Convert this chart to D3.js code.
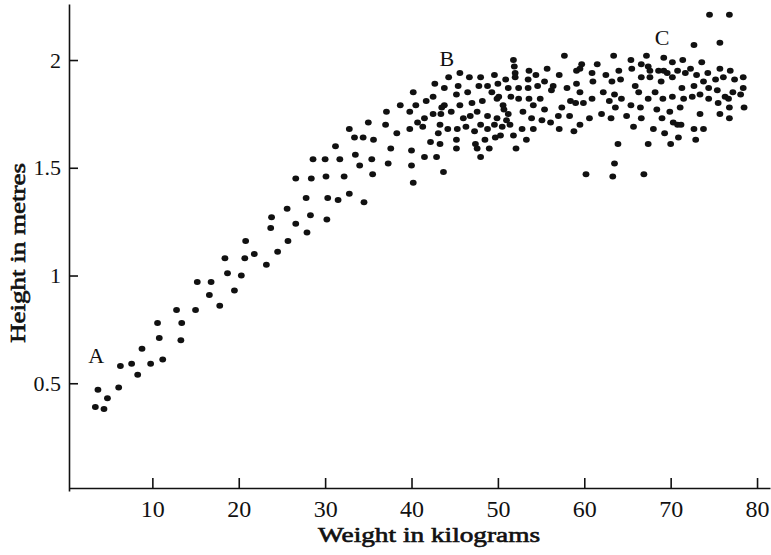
<!DOCTYPE html>
<html>
<head>
<meta charset="UTF-8">
<title>Height against weight</title>
<script src="https://d3js.org/d3.v7.min.js"></script>
<style>
	body { margin: 0; background: #fff; }
	svg text { font-family: "Liberation Serif", "DejaVu Serif", serif; fill: #111; }
	.axis path, .axis line { stroke: #111; stroke-width: 1.6; }
	.title { stroke: #111; stroke-width: 0.6; }
</style>
</head>
<body>
<svg id="chart" width="771" height="555"></svg>
<script>
// weight (kg), height (m)
var points = [
	[20.8,1.16],[21.8,1.10],[18.4,1.08],[20.7,1.08],[18.7,1.01],[20.3,1.00],[15.2,0.97],[16.8,0.97],
	[16.6,0.91],[19.5,0.93],[17.8,0.86],[12.8,0.84],[15.0,0.84],[13.4,0.78],[10.6,0.78],[10.8,0.71],
	[13.3,0.70],[8.8,0.66],[6.3,0.58],[7.6,0.59],[9.8,0.59],[11.2,0.61],[8.3,0.54],[6.1,0.48],
	[3.7,0.47],[4.8,0.43],[3.4,0.39],[4.4,0.38],
	[38.7,1.79],[37.1,1.76],[35.0,1.71],[32.8,1.68],[37.0,1.70],[38.3,1.66],[33.4,1.64],[34.4,1.64],
	[35.6,1.63],[31.2,1.60],[37.6,1.59],[33.5,1.56],[28.6,1.54],[30.0,1.54],[31.7,1.54],[35.4,1.54],
	[34.0,1.51],[37.3,1.52],[35.5,1.47],[26.6,1.45],[28.4,1.45],[30.1,1.46],[32.2,1.46],[27.8,1.36],
	[30.3,1.36],[31.5,1.35],[32.8,1.38],[34.5,1.34],[25.6,1.31],[23.8,1.27],[28.3,1.28],[23.7,1.22],
	[26.6,1.24],[30.2,1.26],[27.9,1.20],[25.7,1.16],[24.5,1.11],[23.2,1.05],
	[51.8,2.00],[51.9,1.97],[52.0,1.94],[52.0,1.92],
	[45.6,1.94],[44.3,1.92],[46.7,1.92],[48.0,1.92],[49.6,1.93],[50.9,1.91],
	[42.7,1.89],[43.8,1.87],[45.4,1.88],[47.8,1.88],[48.8,1.88],[50.0,1.89],[51.2,1.87],[52.4,1.87],
	[40.2,1.85],[42.5,1.83],[45.2,1.84],[46.5,1.85],[49.3,1.85],[50.1,1.83],[51.5,1.83],[52.4,1.82],
	[40.5,1.79],[41.7,1.81],[43.8,1.79],[45.6,1.79],[47.0,1.80],[48.2,1.81],[50.6,1.79],[50.7,1.77],
	[39.8,1.76],[41.5,1.73],[42.5,1.75],[43.4,1.75],[43.5,1.78],[44.6,1.76],[46.0,1.73],[46.8,1.74],
	[47.6,1.76],[48.8,1.74],[49.9,1.73],[51.2,1.75],[49.9,1.82],[51.0,1.72],[50.3,1.65],
	[40.7,1.71],[41.3,1.69],[39.8,1.68],[43.3,1.70],[44.2,1.68],[45.3,1.68],[46.3,1.69],[47.3,1.67],
	[48.0,1.70],[48.8,1.68],[49.6,1.70],[50.5,1.69],[51.4,1.70],
	[43.1,1.66],[42.2,1.62],[43.3,1.61],[45.2,1.63],[45.2,1.59],[47.4,1.61],[47.6,1.59],[48.5,1.63],
	[49.0,1.59],[49.7,1.64],[51.8,1.65],[52.1,1.59],
	[40.0,1.58],[41.5,1.55],[42.9,1.55],[48.0,1.55],[40.0,1.51],[43.7,1.48],[40.2,1.43],
	[57.7,2.02],[63.4,2.02],[65.4,2.00],[67.2,2.02],[53.6,1.95],[55.7,1.96],[59.7,1.98],[59.5,1.96],
	[59.1,1.95],[61.5,1.98],[64.0,1.95],[65.5,1.96],[66.6,1.98],[67.4,1.97],
	[54.4,1.93],[57.1,1.93],[60.9,1.94],[62.5,1.93],[64.2,1.91],[66.6,1.92],[53.5,1.91],[55.4,1.90],
	[56.4,1.88],[56.2,1.86],[54.6,1.88],[58.0,1.87],[59.1,1.89],[61.0,1.90],[63.2,1.90],[65.9,1.88],
	[59.5,1.85],[53.5,1.87],[66.3,1.85],[62.2,1.85],[63.5,1.84],[53.6,1.82],[54.9,1.82],[58.4,1.81],
	[59.0,1.80],[59.9,1.80],[60.9,1.82],[62.9,1.81],[64.3,1.82],[67.4,1.82],
	[54.1,1.79],[57.4,1.78],[63.6,1.78],[65.4,1.79],[66.5,1.78],[52.9,1.76],[55.4,1.77],[57.0,1.74],
	[58.3,1.74],[62.0,1.75],[64.9,1.74],[60.6,1.73],[63.1,1.73],[66.6,1.73],
	[53.9,1.73],[55.1,1.72],[56.1,1.71],[59.5,1.70],[65.7,1.69],[52.8,1.68],[54.1,1.68],[57.1,1.68],
	[58.8,1.67],[53.3,1.63],[63.9,1.61],[67.4,1.61],[63.5,1.52],[60.2,1.47],[63.3,1.46],[66.9,1.47],
	[74.5,2.21],[76.8,2.21],[72.7,2.07],[75.7,2.08],[69.2,2.01],[70.2,1.99],[71.4,2.00],[73.6,1.99],
	[67.6,1.95],[68.6,1.95],[69.2,1.95],[69.6,1.94],[70.8,1.95],[72.3,1.96],[74.3,1.94],[75.7,1.96],
	[76.9,1.95],[67.6,1.92],[68.9,1.90],[70.2,1.92],[71.7,1.94],[73.0,1.93],[73.8,1.90],[75.2,1.91],
	[76.1,1.92],[77.4,1.91],[78.4,1.92],[78.4,1.87],[71.3,1.87],[72.7,1.88],[74.4,1.87],[75.4,1.86],
	[77.2,1.85],[78.1,1.84],[76.3,1.83],[68.2,1.85],
	[69.1,1.82],[70.2,1.83],[71.5,1.82],[72.5,1.83],[73.4,1.84],[74.4,1.82],[75.5,1.80],[76.7,1.82],
	[68.4,1.77],[69.9,1.76],[71.1,1.78],[76.8,1.78],[78.5,1.78],[73.4,1.75],[75.7,1.75],
	[69.0,1.73],[70.3,1.71],[70.8,1.70],[71.2,1.70],[76.8,1.73],[68.0,1.68],[69.3,1.66],[72.7,1.68],
	[73.8,1.68],[70.9,1.64],[70.0,1.61],[72.9,1.63]
];

var xTicks = [10, 20, 30, 40, 50, 60, 70, 80];
var yTicks = [0.5, 1, 1.5, 2];
var yTickLabels = ['0.5', '1', '1.5', '2'];

// the letters written beside the cloud
var noteText = ['A', 'B', 'C'];
var noteKg = [3.5, 44.1, 69.0];
var noteM = [0.595, 1.97, 2.07];

var svg = d3.select('#chart');

var x = d3.scaleLinear().domain([0.35, 81.5]).range([69, 770]);
var y = d3.scaleLinear().domain([0, 2.26]).range([491, 4]);

// axes, ticks pointing inwards
svg.append('g')
	.attr('class', 'axis')
	.attr('transform', 'translate(0,488)')
	.call(d3.axisBottom(x).tickValues(xTicks).tickSize(-10).tickSizeOuter(0).tickPadding(12))
	.call(g => g.selectAll('text').attr('font-size', 24));

svg.append('g')
	.attr('class', 'axis')
	.attr('transform', 'translate(69,0)')
	.call(d3.axisLeft(y).tickValues(yTicks).tickFormat((d, i) => yTickLabels[i])
		.tickSize(-9).tickSizeOuter(0).tickPadding(8))
	.call(g => g.selectAll('text').attr('font-size', 22));

svg.selectAll('.axis').attr('font-family', null);

// dots
svg.append('g').selectAll('ellipse')
	.data(points)
	.enter()
	.append('ellipse')
	.attr('cx', d => x(d[0]))
	.attr('cy', d => y(d[1]))
	.attr('rx', 3.4)
	.attr('ry', 3.0)
	.attr('fill', '#111');

// A, B, C
svg.append('g').selectAll('text')
	.data(noteText)
	.enter()
	.append('text')
	.attr('x', (d, i) => x(noteKg[i]))
	.attr('y', (d, i) => y(noteM[i]))
	.attr('text-anchor', 'middle')
	.attr('font-size', 22)
	.text(d => d);

// axis titles
svg.append('text')
	.attr('class', 'title')
	.attr('x', 318)
	.attr('y', 542)
	.attr('font-size', 20)
	.attr('textLength', 222)
	.attr('lengthAdjust', 'spacingAndGlyphs')
	.text('Weight in kilograms');

svg.append('text')
	.attr('class', 'title')
	.attr('transform', 'translate(25,343) rotate(-90)')
	.attr('font-size', 20)
	.attr('textLength', 180)
	.attr('lengthAdjust', 'spacingAndGlyphs')
	.text('Height in metres');
</script>
</body>
</html>
